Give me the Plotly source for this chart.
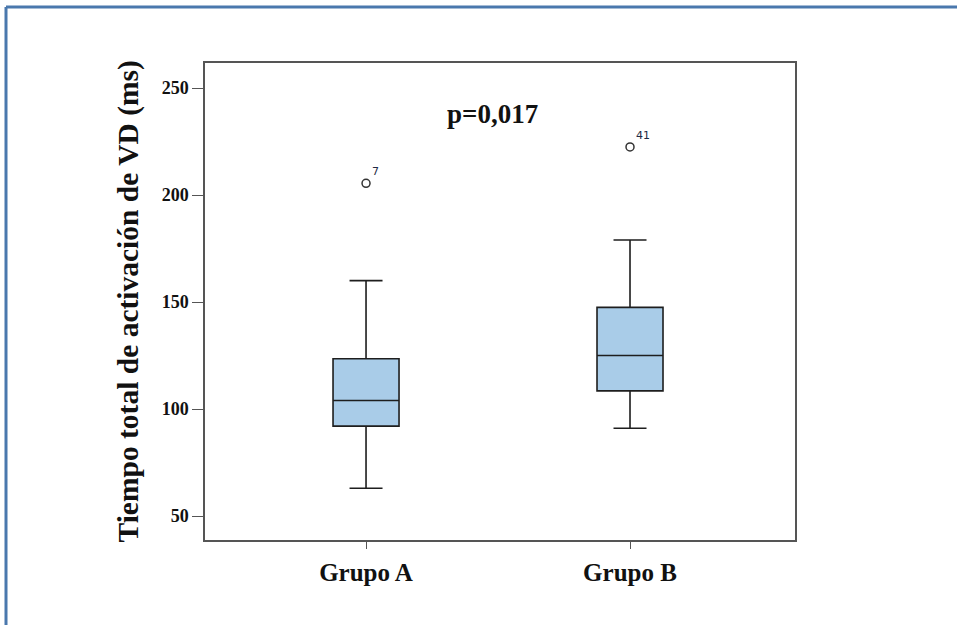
import plotly.graph_objects as go

# ---- data ----
groups = ["Grupo A", "Grupo B"]
q1_vals = [92.0, 108.5]
median_vals = [104.0, 125.0]
q3_vals = [123.5, 147.5]
lower_whisker = [63.0, 91.0]
upper_whisker = [160.0, 179.0]
outlier_groups = ["Grupo A", "Grupo B"]
outlier_values = [205.5, 222.5]
outlier_ids = ["7", "41"]
y_ticks = [50, 100, 150, 200, 250]
p_text = "p=0,017"
y_title = "Tiempo total de activación de VD (ms)"

W, H = 957, 625
L, R, T, B = 205, 162, 63, 85
pw, ph = W - L - R, H - T - B

fig = go.Figure()
fig.add_trace(go.Box(
    x=groups,
    q1=q1_vals, median=median_vals, q3=q3_vals,
    lowerfence=lower_whisker, upperfence=upper_whisker,
    width=0.25, whiskerwidth=0.5,
    fillcolor="#a9cce8",
    line=dict(color="#1e1e1e", width=1.6),
    boxpoints=False, showlegend=False, hoverinfo="skip",
))
fig.add_trace(go.Scatter(
    x=outlier_groups, y=outlier_values, mode="markers",
    marker=dict(symbol="circle-open", size=8, color="#333333",
                line=dict(width=1.5, color="#333333")),
    showlegend=False, hoverinfo="skip",
))

annotations = []
for g, v, lab in zip(outlier_groups, outlier_values, outlier_ids):
    annotations.append(dict(
        x=g, y=v, xref="x", yref="y", text=lab, showarrow=False,
        xanchor="left", yanchor="bottom", xshift=4, yshift=3,
        font=dict(family="DejaVu Sans", size=11, color="#1f2a44"),
    ))

annotations.append(dict(
    x=(492 - L) / pw, y=(H - B - 114) / ph, xref="paper", yref="paper",
    text="<b>%s</b>" % p_text, showarrow=False,
    xanchor="center", yanchor="middle",
    font=dict(family="Liberation Serif", size=27, color="#111111"),
))
annotations.append(dict(
    x=(128 - L) / pw, y=0.5, xref="paper", yref="paper",
    text="<b>%s</b>" % y_title, showarrow=False, textangle=-90,
    xanchor="center", yanchor="middle",
    font=dict(family="Liberation Serif", size=29.5, color="#111111"),
))

# outer blue frame (left and top edges visible)
fx0 = (6 - L) / pw
fx1 = (W + 10 - L) / pw
fy_top = (H - B - 7) / ph
fy_bot = (H - B - (H + 10)) / ph
shapes = [
    dict(type="line", xref="paper", yref="paper", x0=fx0, x1=fx0, y0=fy_bot, y1=fy_top,
         line=dict(color="#4a78ad", width=3)),
    dict(type="line", xref="paper", yref="paper", x0=fx0, x1=fx1, y0=fy_top, y1=fy_top,
         line=dict(color="#4a78ad", width=3)),
]

fig.update_layout(
    width=W, height=H,
    margin=dict(l=L, r=R, t=T, b=B),
    paper_bgcolor="white", plot_bgcolor="white",
    annotations=annotations, shapes=shapes,
    xaxis=dict(
        type="category", range=[-0.61, 1.625],
        showline=True, mirror=True, linecolor="#555555", linewidth=1.5,
        ticks="outside", ticklen=7, tickcolor="#555555", tickwidth=1.2,
        showgrid=False, zeroline=False, ticklabelstandoff=2,
        tickfont=dict(family="Liberation Serif", size=25, color="#111111", weight="bold"),
        tickvals=groups, ticktext=groups,
    ),
    yaxis=dict(
        range=[38.8, 261.7],
        showline=True, mirror=True, linecolor="#555555", linewidth=1.5,
        ticks="outside", ticklen=11, tickcolor="#555555", tickwidth=1.2,
        showgrid=False, zeroline=False,
        tickvals=y_ticks, ticktext=[str(v) for v in y_ticks],
        tickfont=dict(family="Liberation Serif", size=18, color="#111111", weight="bold"),
    ),
)

fig.write_html("out.html")
